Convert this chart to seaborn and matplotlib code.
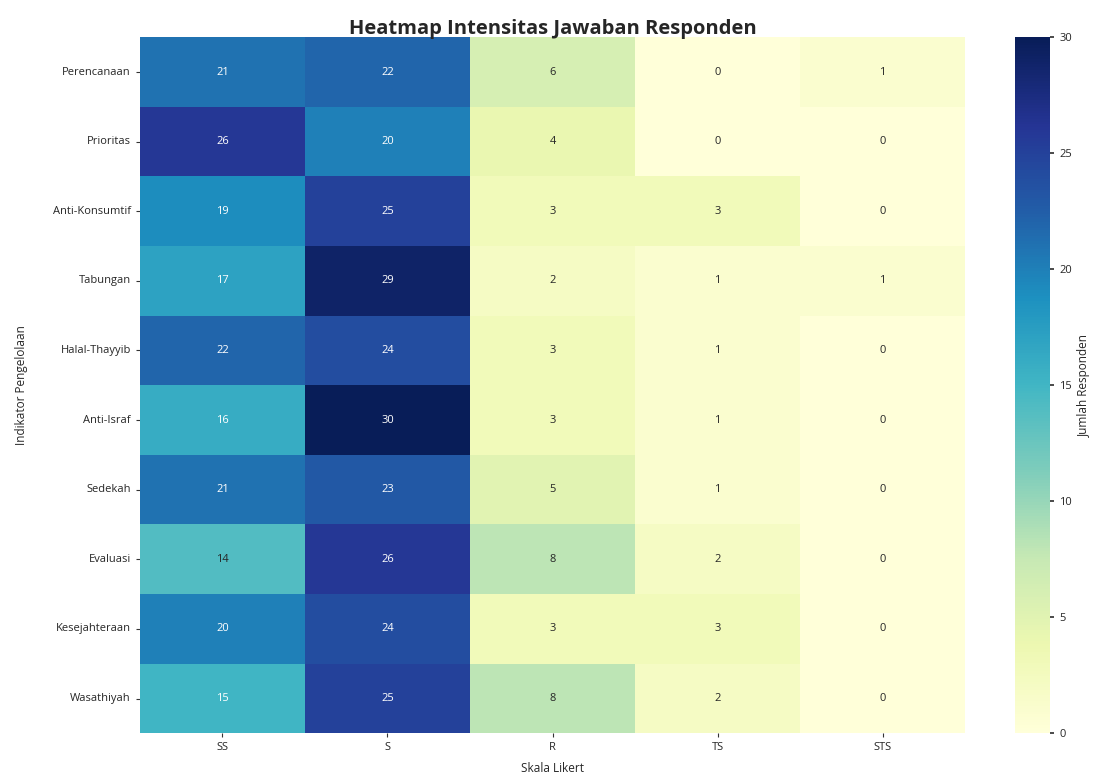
import numpy as np
import pandas as pd
import matplotlib
matplotlib.use("Agg")
import matplotlib.pyplot as plt
import seaborn as sns

sns.set_theme(style="white")
plt.rcParams["font.family"] = ["Open Sans", "DejaVu Sans"]

indicators = [
    "Perencanaan", "Prioritas", "Anti-Konsumtif", "Tabungan", "Halal-Thayyib",
    "Anti-Israf", "Sedekah", "Evaluasi", "Kesejahteraan", "Wasathiyah",
]
scale = ["SS", "S", "R", "TS", "STS"]

ss = [21, 26, 19, 17, 22, 16, 21, 14, 20, 15]
s = [22, 20, 25, 29, 24, 30, 23, 26, 24, 25]
r = [6, 4, 3, 2, 3, 3, 5, 8, 3, 8]
ts = [0, 0, 3, 1, 1, 1, 1, 2, 3, 2]
sts = [1, 0, 0, 1, 0, 0, 0, 0, 0, 0]

df = pd.DataFrame({"SS": ss, "S": s, "R": r, "TS": ts, "STS": sts}, index=indicators)[scale]

fig = plt.figure(figsize=(10.93, 7.76), dpi=100)
ax = fig.add_axes([0.128, 0.055, 0.755, 0.897])
cax = fig.add_axes([0.929, 0.055, 0.032, 0.897])

sns.heatmap(df, annot=True, fmt="d", cmap="YlGnBu", vmin=0, vmax=30,
            ax=ax, cbar_ax=cax, annot_kws={"fontsize": 8},
            cbar_kws={"label": "Jumlah Responden"})

ax.set_title("Heatmap Intensitas Jawaban Responden", fontsize=14.5, fontweight="bold", pad=2)
ax.set_xlabel("Skala Likert", fontsize=8.5, labelpad=6)
ax.set_ylabel("Indikator Pengelolaan", fontsize=8.5, labelpad=18)
ax.tick_params(axis="both", labelsize=8, length=3, width=0.8, left=True, bottom=True, color="#333333")
ax.set_yticklabels(ax.get_yticklabels(), rotation=0)
cax.tick_params(labelsize=8, length=3, right=True, color="#333333")
cax.yaxis.label.set_size(8.5)

fig.savefig("out.png", dpi=100)
